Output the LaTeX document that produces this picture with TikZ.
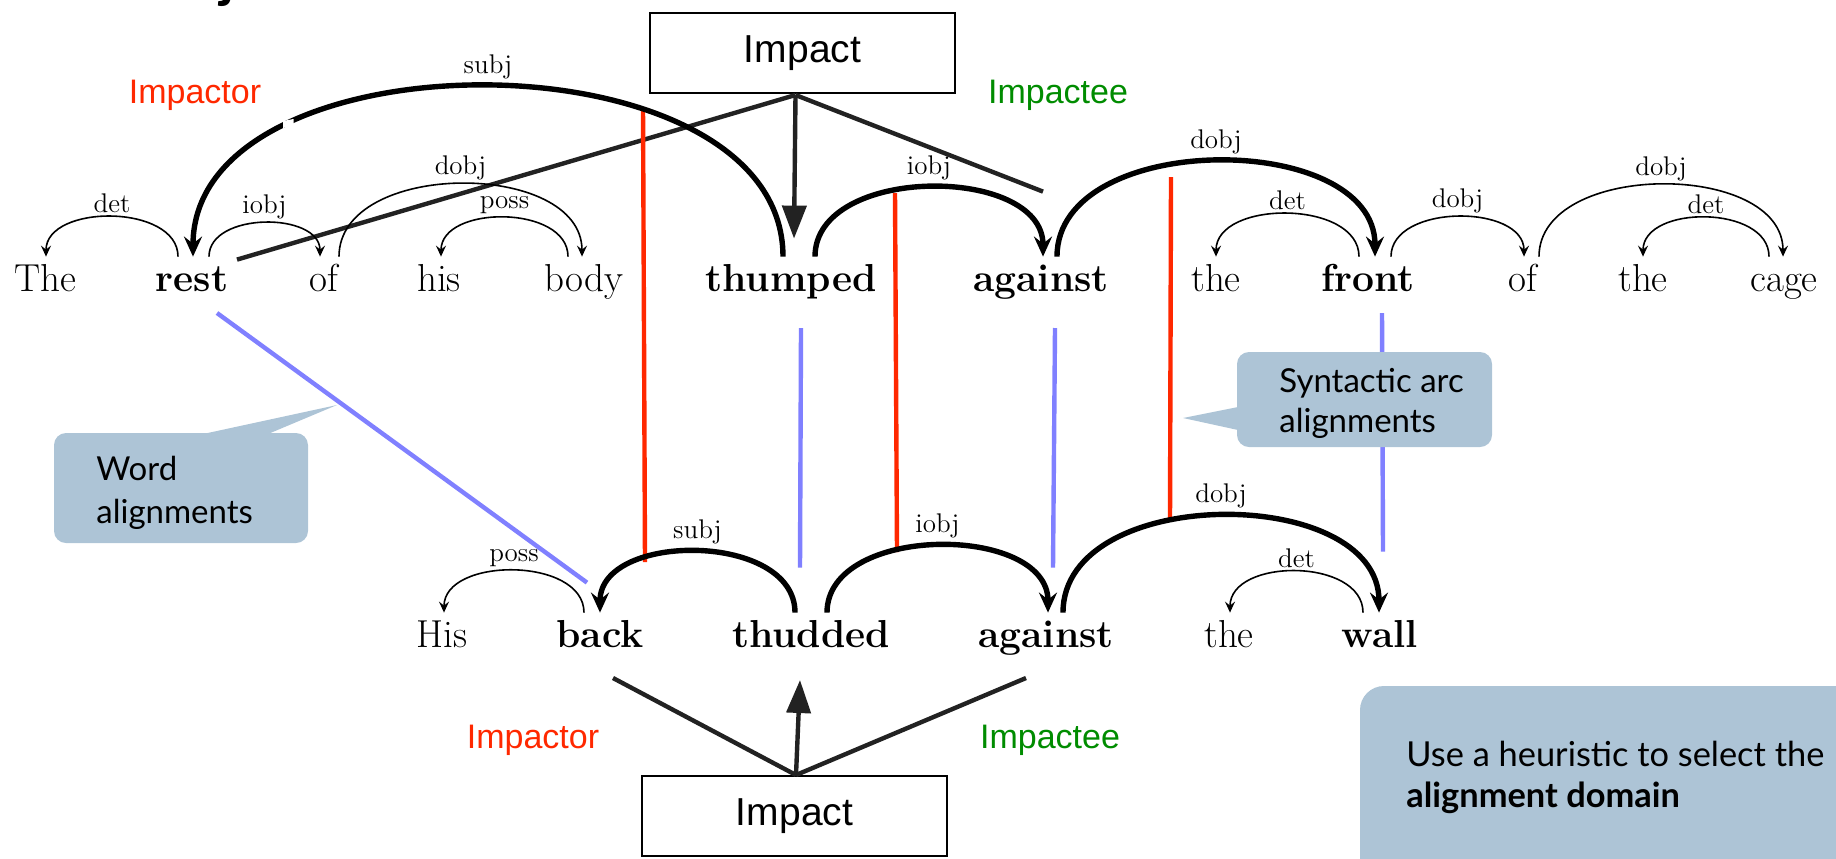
\documentclass[tikz,border=0pt]{standalone}
\usepackage{fontspec}
\setsansfont{Liberation Sans}
\newfontfamily\callfont{Lato}
\usetikzlibrary{arrows.meta,calc}
\definecolor{calloutblue}{RGB}{173,196,214}
\definecolor{alignred}{RGB}{255,40,0}
\definecolor{wordblue}{RGB}{128,128,255}
\definecolor{rolegreen}{RGB}{0,140,0}
\definecolor{framegray}{RGB}{34,34,34}

\begin{document}
\begin{tikzpicture}[x=0.5pt,y=-0.5pt,
  word/.style={font=\fontsize{19.5}{23}\selectfont, inner sep=0pt,
    text height=17pt, text depth=5pt, anchor=base},
  bword/.style={word, font=\fontsize{19.5}{23}\selectfont\bfseries},
  lbl/.style={midway, above, inner sep=1.5pt, font=\fontsize{13.5}{15}\selectfont},
  thinarc/.style={line width=0.8pt, -{Stealth[length=5.5pt,width=5pt,inset=2pt]}},
  thickarc/.style={line width=2.7pt, -{Stealth[length=10pt,width=9pt,inset=3.5pt]}},
  framebox/.style={draw=black, line width=1pt, minimum width=152.5pt,
    minimum height=40pt, inner sep=0pt, font=\sffamily\fontsize{19.5}{23}\selectfont},
  role/.style={anchor=base, inner sep=0pt, font=\sffamily\fontsize{17}{20}\selectfont},
  frameline/.style={draw=framegray, line width=2.2pt},
  framearrow/.style={frameline, -{Triangle[length=16.5pt,width=12pt]}},
  redline/.style={draw=alignred, line width=2.2pt},
  blueline/.style={draw=wordblue, line width=2.2pt},
  calltext/.style={anchor=base west, inner sep=0pt, font=\callfont\fontsize{16.5}{21.5}\selectfont},
]
\useasboundingbox (0,0) rectangle (1836,858);
\clip (0,0) rectangle (1836,858);

% cut-off title descender
\node[anchor=base, inner sep=0pt, font=\callfont\bfseries\fontsize{28}{28}\selectfont] (title) at (228,-4) {j};

% ---------- sentence 1 ----------
\node[word]  (The)     at (45,291)   {The};
\node[bword] (rest)    at (192,291)  {rest};
\node[word]  (of)      at (324,291)  {of};
\node[word]  (his)     at (439,291)  {his};
\node[word]  (body)    at (584,291)  {body};
\node[bword] (thumped) at (791,291)  {thumped};
\node[bword] (against) at (1041,291) {against};
\node[word]  (the)     at (1216,291) {the};
\node[bword] (front)   at (1368,291) {front};
\node[word]  (ofb)     at (1523,291) {of};
\node[word]  (theb)    at (1643,291) {the};
\node[word]  (cage)    at (1784,291) {cage};

% ---------- sentence 2 ----------
\node[word]  (His)      at (442,647)  {His};
\node[bword] (back)     at (600,647)  {back};
\node[bword] (thudded)  at (811,647)  {thudded};
\node[bword] (against2) at (1046,647) {against};
\node[word]  (the2)     at (1229,647) {the};
\node[bword] (wall)     at (1380,647) {wall};

% ---------- frames ----------
\node[framebox] (imp1) at (802.5,53) {Impact};
\node[framebox] (imp2) at (794.5,816) {Impact};
\node[role, text=alignred]  (tor1) at (195,103)  {Impactor};
\node[role, text=rolegreen] (tee1) at (1058,103) {Impactee};
\node[role, text=alignred]  (tor2) at (533,748)  {Impactor};
\node[role, text=rolegreen] (tee2) at (1050,748) {Impactee};

\coordinate (apex1) at ($(imp1.south)+(-7,1)$);
\draw[frameline] (apex1) -- ($(rest.north)+(45,3)$);
\draw[frameline] (apex1) -- ($(against.north)+(2,-65)$);
\draw[framearrow] (apex1) -- ($(thumped.north)+(3,-18)$);

\coordinate (apex2) at ($(imp2.north)+(1.5,0)$);
\draw[frameline] (apex2) -- ($(back.base)+(13,31)$);
\draw[frameline] (apex2) -- ($(against2.base)+(-20,31)$);
\draw[framearrow] (apex2) -- ($(thudded.base)+(-11,33)$);

% ---------- word alignments ----------
\draw[blueline] ($(rest.base)+(25,22)$) -- ($(back.north)+(-13,-30)$);
\draw[blueline] ($(thumped.base)+(10,37)$) -- ($(thudded.north)+(-11,-45)$);
\draw[blueline] ($(against.base)+(14,37)$) -- ($(against2.north)+(7,-45)$);
\draw[blueline] ($(front.base)+(14,22)$) -- ($(wall.north)+(3,-61)$);

% ---------- arc alignments ----------
\coordinate (s1) at (643,107);  \coordinate (s2) at (645,562);
\coordinate (i1) at (895,193);  \coordinate (i2) at (897,552);
\coordinate (d1) at (1171,177); \coordinate (d2) at (1170,520);
\draw[redline] (s1) -- (s2);
\draw[redline] (i1) -- (i2);
\draw[redline] (d1) -- (d2);

% ---------- dependencies, sentence 1 ----------
\draw[thinarc] ($(rest.north)+(-14,0)$) .. controls +(0,-53) and +(0,-53) .. ($(The.north)+(1,0)$) node[lbl]{det};
\draw[thinarc] ($(rest.north)+(17,0)$) .. controls +(0,-45) and +(0,-45) .. ($(of.north)+(-4,0)$) node[lbl]{iobj};
\draw[thinarc] ($(of.north)+(15,0)$) .. controls +(0,-97) and +(0,-97) .. ($(body.north)+(-2,0)$) node[lbl]{dobj};
\draw[thinarc] ($(body.north)+(-16,0)$) .. controls +(0,-52) and +(0,-52) .. ($(his.north)+(2,0)$) node[lbl]{poss};
\draw[thickarc] ($(thumped.north)+(-8,0)$) .. controls +(0,-227) and +(0,-227) .. ($(rest.north)+(1,0)$) node[lbl, inner sep=2.5pt]{subj};
\draw[thickarc] ($(thumped.north)+(24,0)$) .. controls +(0,-92) and +(0,-92) .. ($(against.north)+(2,0)$) node[lbl, inner sep=2.5pt]{iobj};
\draw[thickarc] ($(against.north)+(16,0)$) .. controls +(0,-127) and +(0,-127) .. ($(front.north)+(7,0)$) node[lbl, inner sep=2.5pt]{dobj};
\draw[thinarc] ($(front.north)+(-9,0)$) .. controls +(0,-57) and +(0,-57) .. ($(the.north)+(0,0)$) node[lbl]{det};
\draw[thinarc] ($(front.north)+(23,0)$) .. controls +(0,-53) and +(0,-53) .. ($(ofb.north)+(1,0)$) node[lbl]{dobj};
\draw[thinarc] ($(ofb.north)+(16,0)$) .. controls +(0,-96) and +(0,-96) .. ($(cage.north)+(-1,0)$) node[lbl]{dobj};
\draw[thinarc] ($(cage.north)+(-15,0)$) .. controls +(0,-52) and +(0,-52) .. ($(theb.north)+(0,0)$) node[lbl]{det};
% small step in the subj arc
\fill[white] (293.5,119) -- (293.5,124.5) -- (283,128) -- (283,121) -- cycle;

% ---------- dependencies, sentence 2 ----------
\draw[thinarc] ($(back.north)+(-16,0)$) .. controls +(0,-56) and +(0,-56) .. ($(His.north)+(2,0)$) node[lbl]{poss};
\draw[thickarc] ($(thudded.north)+(-16,0)$) .. controls +(0,-81) and +(0,-81) .. ($(back.north)+(0,0)$) node[lbl, inner sep=2.5pt]{subj};
\draw[thickarc] ($(thudded.north)+(16,0)$) .. controls +(0,-89) and +(0,-89) .. ($(against2.north)+(2,0)$) node[lbl, inner sep=2.5pt]{iobj};
\draw[thickarc] ($(against2.north)+(17,0)$) .. controls +(0,-129) and +(0,-129) .. ($(wall.north)+(-1,0)$) node[lbl, inner sep=2.5pt]{dobj};
\draw[thinarc] ($(wall.north)+(-17,0)$) .. controls +(0,-55) and +(0,-55) .. ($(the2.north)+(1,0)$) node[lbl]{det};

% ---------- callouts ----------
\fill[calloutblue, rounded corners=6pt] (54,433) rectangle (308,543);
\fill[calloutblue] (203,434) -- (337,405) -- (268,434) -- cycle;
\node[calltext] (wordcall) at (96,480)
  {\begin{tabular}[t]{@{}l@{}}Word\\alignments\end{tabular}};

\fill[calloutblue, rounded corners=6pt] (1237,352) rectangle (1492,447);
\fill[calloutblue] (1238,407) -- (1183,418) -- (1238,430) -- cycle;
\node[calltext, font=\callfont\fontsize{16.5}{20}\selectfont] (arccall) at (1279,392)
  {\begin{tabular}[t]{@{}l@{}}Syntactic arc\\alignments\end{tabular}};

\fill[calloutblue, rounded corners=12pt] (1360,686) rectangle (1900,920);
\node[calltext, font=\callfont\fontsize{17.2}{20.5}\selectfont] (domain) at (1406,766)
  {\begin{tabular}[t]{@{}l@{}}Use a heuristic to select the\\\textbf{alignment domain}\end{tabular}};

\end{tikzpicture}
\end{document}
